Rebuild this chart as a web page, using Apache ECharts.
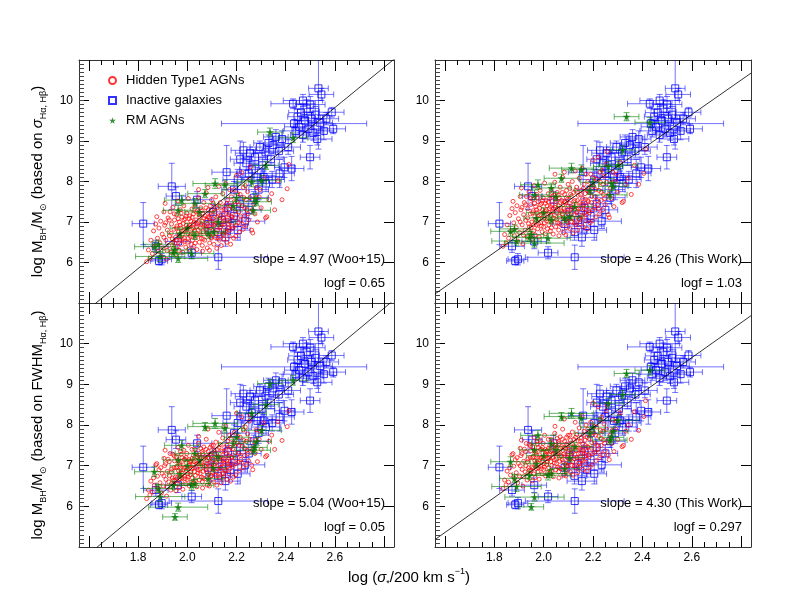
<!DOCTYPE html>
<html>
<head>
<meta charset="utf-8">
<script src="https://cdn.jsdelivr.net/npm/echarts@6.0.0/dist/echarts.min.js"></script>
<style>
  html, body { margin: 0; padding: 0; background: #fff; }
  #chart { width: 789px; height: 608px; }
</style>
</head>
<body>
<div id="chart"></div>
<script>
// log sigma_*, log M (sigma-based, Woo+15 f), log M (FWHM-based, Woo+15 f)
const hiddenAgn = [
  [1.835, 6.02, 6.19], [1.842, 6.31, 6.40], [1.848, 6.10, 6.28], [1.852, 6.55, 6.62], [1.858, 6.22, 6.35],
  [1.863, 6.78, 6.70], [1.866, 6.40, 6.52], [1.872, 6.95, 7.02], [1.876, 7.13, 7.05], [1.879, 6.60, 6.74],
  [1.882, 6.28, 6.44], [1.885, 6.85, 6.90], [1.889, 6.48, 6.58], [1.892, 7.02, 6.95], [1.895, 6.15, 6.33],
  [1.898, 6.70, 6.81], [1.902, 6.36, 6.50], [1.905, 7.25, 7.18], [1.908, 6.92, 7.00], [1.910, 7.46, 7.38],
  [1.913, 6.55, 6.66], [1.916, 6.08, 6.25], [1.919, 6.80, 6.86], [1.922, 7.10, 7.16], [1.925, 6.42, 6.60],
  [1.928, 6.66, 6.75], [1.930, 7.25, 7.30], [1.933, 6.25, 6.40], [1.936, 6.95, 6.92], [1.939, 6.58, 6.70],
  [1.941, 7.36, 7.28], [1.944, 6.35, 6.55], [1.946, 6.82, 6.95], [1.948, 7.05, 7.12], [1.949, 6.48, 6.62],
  [1.952, 6.62, 6.72], [1.954, 6.20, 6.38], [1.956, 7.18, 7.22], [1.958, 6.90, 6.98], [1.960, 6.40, 6.55],
  [1.962, 7.52, 7.45], [1.964, 6.75, 6.88], [1.966, 6.30, 6.46], [1.968, 7.00, 7.08], [1.970, 6.55, 6.68],
  [1.972, 7.30, 7.35], [1.974, 6.85, 6.90], [1.976, 6.45, 6.60], [1.978, 7.12, 7.20], [1.980, 6.70, 6.80],
  [1.982, 6.25, 6.42], [1.984, 6.96, 7.02], [1.986, 7.40, 7.38], [1.988, 6.60, 6.74], [1.990, 6.80, 6.95],
  [1.992, 7.08, 7.15], [1.994, 6.38, 6.55], [1.996, 6.92, 6.88], [1.998, 7.22, 7.30], [2.000, 6.50, 6.66],
  [2.002, 6.72, 6.80], [2.004, 7.58, 7.50], [2.006, 6.88, 7.00], [2.008, 6.33, 6.50], [2.010, 7.15, 7.10],
  [2.012, 6.65, 6.78], [2.014, 7.02, 7.12], [2.016, 6.45, 6.58], [2.018, 6.82, 6.92], [2.019, 7.32, 7.40],
  [2.021, 6.55, 6.70], [2.023, 6.95, 7.02], [2.025, 7.20, 7.25], [2.027, 6.40, 6.58], [2.029, 6.78, 6.85],
  [2.031, 7.42, 7.40], [2.033, 6.62, 6.76], [2.035, 7.05, 7.12], [2.037, 6.88, 6.95], [2.039, 6.32, 6.48],
  [2.041, 7.28, 7.22], [2.043, 6.70, 6.82], [2.045, 7.60, 7.55], [2.047, 6.98, 7.05], [2.049, 6.50, 6.65],
  [2.051, 7.12, 7.20], [2.053, 6.85, 6.92], [2.055, 7.35, 7.42], [2.057, 6.60, 6.72], [2.059, 7.02, 7.08],
  [2.061, 6.42, 6.60], [2.063, 7.22, 7.30], [2.065, 6.76, 6.86], [2.067, 7.48, 7.46], [2.069, 6.92, 7.00],
  [2.071, 6.55, 6.68], [2.073, 7.15, 7.22], [2.075, 6.82, 6.90], [2.077, 7.72, 7.65], [2.079, 7.05, 7.12],
  [2.081, 6.36, 6.52], [2.083, 6.95, 7.05], [2.085, 7.30, 7.35], [2.087, 6.68, 6.78], [2.089, 7.10, 7.18],
  [2.091, 6.48, 6.62], [2.093, 7.40, 7.45], [2.095, 6.86, 6.96], [2.097, 7.18, 7.25], [2.098, 6.60, 6.75],
  [2.099, 7.55, 7.50], [2.090, 6.30, 6.50], [2.062, 6.28, 6.45], [2.046, 7.80, 7.72], [2.084, 7.85, 7.90],
  [2.102, 6.72, 6.85], [2.104, 7.08, 7.15], [2.106, 7.45, 7.50], [2.108, 6.45, 6.60], [2.110, 6.92, 7.00],
  [2.112, 7.25, 7.30], [2.114, 6.62, 6.76], [2.116, 7.62, 7.58], [2.118, 6.98, 7.08], [2.120, 6.35, 6.52],
  [2.122, 7.35, 7.40], [2.124, 6.80, 6.92], [2.126, 7.15, 7.22], [2.128, 7.88, 7.82], [2.130, 6.55, 6.70],
  [2.132, 7.02, 7.12], [2.134, 7.48, 7.52], [2.136, 6.88, 6.95], [2.138, 6.42, 6.58], [2.140, 7.28, 7.35],
  [2.142, 6.70, 6.82], [2.144, 7.70, 7.68], [2.146, 7.10, 7.18], [2.148, 6.58, 6.72], [2.150, 6.95, 7.05],
  [2.152, 7.40, 7.45], [2.154, 6.78, 6.90], [2.156, 7.95, 7.98], [2.158, 7.20, 7.28], [2.160, 6.50, 6.66],
  [2.162, 7.05, 7.12], [2.164, 7.55, 7.60], [2.166, 6.85, 6.98], [2.168, 7.32, 7.38], [2.170, 6.65, 6.80],
  [2.172, 7.80, 7.75], [2.174, 7.00, 7.10], [2.176, 6.45, 6.62], [2.178, 7.15, 7.22], [2.179, 7.62, 7.65],
  [2.182, 6.90, 7.02], [2.185, 7.35, 7.42], [2.188, 6.60, 6.72], [2.191, 7.80, 7.82], [2.194, 7.10, 7.18],
  [2.197, 6.65, 6.78], [2.200, 8.15, 8.29], [2.203, 7.50, 7.55], [2.206, 6.98, 7.08], [2.209, 7.25, 7.30],
  [2.212, 6.75, 6.88], [2.215, 7.68, 7.70], [2.218, 7.05, 7.15], [2.221, 8.22, 8.20], [2.224, 7.40, 7.48],
  [2.227, 6.82, 6.95], [2.230, 7.60, 7.62], [2.233, 7.15, 7.25], [2.236, 7.90, 7.95], [2.239, 6.92, 7.02],
  [2.242, 7.30, 7.38], [2.245, 7.75, 7.78], [2.249, 7.05, 7.12], [2.253, 8.05, 8.10], [2.257, 8.36, 8.25],
  [2.262, 6.80, 7.01], [2.266, 6.73, 6.90], [2.270, 7.45, 7.50], [2.275, 7.20, 7.30], [2.280, 7.85, 7.88],
  [2.285, 7.00, 7.10], [2.292, 7.62, 7.65], [2.300, 7.35, 7.40], [2.310, 8.10, 8.05], [2.318, 7.10, 7.22],
  [2.323, 7.13, 7.25], [2.332, 7.55, 7.60], [2.343, 7.70, 7.75], [2.355, 7.30, 7.40], [2.368, 8.02, 8.08],
  [2.385, 7.55, 7.62], [2.406, 7.82, 7.96], [2.413, 8.42, 8.35],
  [1.905, 6.62, 6.75], [1.912, 6.98, 7.05], [1.918, 6.30, 6.48], [1.927, 7.05, 7.10], [1.935, 6.72, 6.85],
  [1.942, 6.50, 6.64], [1.947, 7.20, 7.24], [1.955, 6.85, 6.95], [1.959, 6.55, 6.70], [1.963, 7.08, 7.12],
  [1.967, 6.68, 6.80], [1.971, 6.92, 7.02], [1.975, 7.22, 7.28], [1.979, 6.58, 6.70], [1.983, 6.78, 6.90],
  [1.987, 7.05, 7.15], [1.991, 6.52, 6.68], [1.995, 7.15, 7.20], [1.999, 6.85, 6.95], [2.003, 6.60, 6.72],
  [2.007, 7.08, 7.15], [2.011, 6.92, 7.02], [2.015, 6.70, 6.85], [2.020, 7.12, 7.18], [2.024, 6.85, 6.95],
  [2.028, 7.00, 7.10], [2.032, 6.48, 6.62], [2.036, 7.25, 7.30], [2.040, 6.95, 7.05], [2.044, 6.80, 6.90],
  [2.048, 7.18, 7.25], [2.052, 6.68, 6.80], [2.056, 6.95, 7.05], [2.060, 7.28, 7.35], [2.064, 6.58, 6.70],
  [2.068, 7.10, 7.18], [2.072, 6.88, 6.98], [2.076, 7.35, 7.40], [2.080, 6.72, 6.85], [2.084, 7.12, 7.20],
  [2.088, 6.90, 7.00], [2.092, 7.22, 7.28], [2.096, 6.62, 6.75], [2.100, 7.02, 7.10], [2.105, 6.80, 6.92],
  [2.109, 7.30, 7.38], [2.113, 6.95, 7.05], [2.117, 6.72, 6.85], [2.121, 7.12, 7.20], [2.125, 6.60, 6.75],
  [2.129, 7.40, 7.45], [2.133, 6.85, 6.95], [2.137, 7.15, 7.22], [2.141, 6.95, 7.05], [2.145, 6.68, 6.80],
  [2.149, 7.30, 7.35], [2.153, 7.05, 7.15], [2.157, 6.75, 6.88], [2.161, 7.45, 7.50], [2.165, 6.95, 7.05],
  [2.169, 7.18, 7.25], [2.173, 6.80, 6.92], [2.177, 7.40, 7.45], [2.181, 7.12, 7.20], [2.186, 6.85, 6.98],
  [2.190, 7.50, 7.55], [2.195, 7.25, 7.32], [2.199, 6.92, 7.05], [2.204, 7.70, 7.72], [2.210, 7.42, 7.50],
  [2.216, 7.15, 7.25], [2.222, 6.95, 7.08], [2.228, 7.85, 7.88], [2.234, 7.35, 7.42], [2.240, 7.55, 7.60],
  [2.247, 7.20, 7.30], [2.255, 7.60, 7.65], [2.264, 7.30, 7.38], [2.278, 7.60, 7.62], [2.295, 7.80, 7.85]
];

// log sigma_*, log M_dyn, x error, y error
const inactiveGalaxies = [
  [1.821, 6.96, 0.045, 0.52], [1.872, 6.40, 0.05, 0.15], [1.885, 6.04, 0.035, 0.10], [1.896, 6.08, 0.04, 0.14],
  [1.937, 7.88, 0.055, 0.57], [1.954, 7.64, 0.04, 0.22], [1.962, 6.52, 0.05, 0.18], [2.018, 6.24, 0.04, 0.15],
  [2.126, 6.13, 0.20, 0.30], [2.040, 7.55, 0.06, 0.20], [2.085, 6.95, 0.05, 0.15], [2.105, 7.25, 0.06, 0.18],
  [2.125, 6.75, 0.05, 0.20], [2.140, 7.05, 0.04, 0.16], [2.155, 6.62, 0.06, 0.22], [2.165, 7.35, 0.05, 0.15],
  [2.175, 6.90, 0.07, 0.18], [2.190, 7.15, 0.05, 0.14], [2.205, 6.80, 0.05, 0.25], [2.215, 7.45, 0.06, 0.20],
  [2.235, 7.02, 0.08, 0.18], [2.250, 7.30, 0.05, 0.22], [2.270, 7.60, 0.06, 0.15], [2.160, 8.23, 0.06, 0.66],
  [2.190, 7.80, 0.05, 0.20], [2.205, 8.05, 0.06, 0.25], [2.228, 8.77, 0.05, 0.20], [2.215, 8.55, 0.04, 0.45],
  [2.240, 8.45, 0.05, 0.18], [2.255, 8.70, 0.06, 0.15], [2.262, 8.30, 0.05, 0.20], [2.275, 8.60, 0.05, 0.18],
  [2.285, 8.10, 0.06, 0.25], [2.295, 8.85, 0.04, 0.15], [2.305, 8.40, 0.05, 0.20], [2.310, 8.11, 0.08, 0.15],
  [2.318, 8.72, 0.05, 0.18], [2.330, 8.95, 0.06, 0.20], [2.340, 8.55, 0.05, 0.15], [2.350, 8.90, 0.04, 0.22],
  [2.360, 9.10, 0.05, 0.18], [2.372, 8.75, 0.06, 0.15], [2.385, 9.05, 0.05, 0.20], [2.395, 8.35, 0.04, 0.25],
  [2.410, 8.85, 0.05, 0.18], [2.424, 8.32, 0.05, 0.30], [2.430, 9.92, 0.09, 0.12], [2.434, 9.43, 0.295, 0.10],
  [2.440, 9.25, 0.05, 0.15], [2.448, 9.60, 0.04, 0.18], [2.455, 9.35, 0.06, 0.15], [2.462, 9.70, 0.05, 0.20],
  [2.470, 9.15, 0.05, 0.18], [2.478, 9.50, 0.04, 0.15], [2.485, 9.80, 0.05, 0.22], [2.492, 9.30, 0.06, 0.20],
  [2.499, 8.60, 0.04, 0.29], [2.505, 9.55, 0.05, 0.15], [2.512, 9.20, 0.04, 0.18], [2.520, 9.65, 0.05, 0.20],
  [2.528, 9.05, 0.06, 0.15], [2.533, 10.30, 0.04, 1.50], [2.545, 10.15, 0.05, 0.15], [2.540, 9.45, 0.05, 0.18],
  [2.555, 9.25, 0.04, 0.22], [2.587, 9.71, 0.05, 0.12], [2.593, 9.30, 0.05, 0.12], [2.565, 9.55, 0.05, 0.15],
  [2.500, 9.90, 0.06, 0.20], [2.470, 10.00, 0.08, 0.15], [2.375, 8.20, 0.06, 0.35], [2.345, 8.05, 0.05, 0.20],
  [2.290, 7.80, 0.04, 0.25], [2.320, 7.95, 0.06, 0.20], [2.250, 8.20, 0.05, 0.30]
];

// log sigma_*, log M (sigma-based), log M (FWHM-based), x error, y error
const rmAgn = [
  [1.866, 6.39, 6.85, 0.08, 0.12], [1.882, 6.45, 6.44, 0.06, 0.10], [1.890, 6.15, 6.24, 0.10, 0.12],
  [1.943, 6.24, 6.52, 0.07, 0.10], [1.950, 6.31, 5.74, 0.05, 0.08], [1.963, 6.10, 5.98, 0.12, 0.10],
  [1.963, 7.29, 7.14, 0.06, 0.12], [1.970, 6.72, 6.80, 0.05, 0.10], [1.977, 7.54, 7.50, 0.07, 0.12],
  [2.018, 6.22, 6.52, 0.09, 0.12], [2.031, 6.67, 6.56, 0.06, 0.10], [2.031, 7.46, 7.30, 0.08, 0.12],
  [2.072, 7.70, 7.96, 0.07, 0.10], [2.085, 6.72, 6.68, 0.06, 0.12], [2.106, 6.76, 6.95, 0.05, 0.10],
  [2.113, 7.95, 8.04, 0.09, 0.12], [2.126, 7.00, 7.22, 0.07, 0.10], [2.153, 7.91, 7.92, 0.08, 0.12],
  [2.187, 7.40, 7.55, 0.06, 0.10], [2.262, 7.99, 8.29, 0.06, 0.12], [2.268, 7.29, 7.38, 0.07, 0.10],
  [2.275, 7.58, 7.45, 0.05, 0.12], [2.282, 7.50, 7.60, 0.06, 0.10], [2.302, 8.03, 7.87, 0.08, 0.12],
  [2.336, 9.22, 9.02, 0.05, 0.10], [2.430, 9.08, 9.10, 0.06, 0.12], [2.320, 8.40, 8.50, 0.05, 0.10],
  [2.050, 7.25, 7.14, 0.06, 0.10], [2.000, 6.85, 7.00, 0.07, 0.12], [2.200, 7.60, 7.70, 0.05, 0.10]
];

// panel order: top-left, top-right, bottom-left, bottom-right
const massColumn = [1, 1, 2, 2];
const logfValues = [0.65, 1.03, 0.05, 0.297];
const logfRef = [0.65, 0.65, 0.05, 0.05];   // masses above are tabulated with the Woo+15 f
const fitSlopes = [4.97, 4.26, 5.04, 4.30];
const fitIntercepts = [8.34, 8.38, 8.36, 8.37]; // at log sigma = log 200
const fitPivot = 2.301;
const slopeLabels = ['slope = 4.97 (Woo+15)', 'slope = 4.26 (This Work)', 'slope = 5.04 (Woo+15)', 'slope = 4.30 (This Work)'];
const logfLabels = ['logf = 0.65', 'logf = 1.03', 'logf = 0.05', 'logf = 0.297'];

const xRange = [1.56, 2.84];
const yRange = [5, 11];
const xMajorTicks = [1.6, 1.8, 2.0, 2.2, 2.4, 2.6, 2.8];
const xLabelValues = [1.8, 2.0, 2.2, 2.4, 2.6];
const yMajorTicks = [6, 7, 8, 9, 10];
const yLabelValues = [6, 7, 8, 9, 10];

const xMinorTicks = [];
for (let i = 0; i <= 24; i++) xMinorTicks.push(+(1.6 + i * 0.05).toFixed(2));
const yMinorTicks = [];
for (let i = 1; i < 60; i++) yMinorTicks.push(+(5 + i * 0.1).toFixed(1));

const FONT = '"Liberation Sans", Arial, Helvetica, sans-serif';
const gridBoxes = [
  {left: 79, top: 60, width: 315, height: 243},
  {left: 435, top: 60, width: 316, height: 243},
  {left: 79, top: 303, width: 315, height: 244},
  {left: 435, top: 303, width: 316, height: 244}
];

const richName = {
  n: {fontSize: 15, fontFamily: FONT, fontWeight: 'normal', lineHeight: 21, color: '#000'},
  i: {fontSize: 15, fontFamily: FONT, fontWeight: 'normal', fontStyle: 'italic', lineHeight: 21, color: '#000'},
  s: {fontSize: 9, fontFamily: FONT, fontWeight: 'normal', verticalAlign: 'bottom', lineHeight: 9, color: '#000'},
  p: {fontSize: 9, fontFamily: FONT, fontWeight: 'normal', verticalAlign: 'top', lineHeight: 9, color: '#000'}
};
const yNames = [
  '{n|log M}{s|BH}{n|/M}{s|⊙}{n| (based on }{i|σ}{s|Hα, Hβ}{n|)}',
  null,
  '{n|log M}{s|BH}{n|/M}{s|⊙}{n| (based on FWHM}{s|Hα, Hβ}{n|)}',
  null
];

const STAR = 'path://M50,0 L61,35 98,35 68,57 79,91 50,70 21,91 32,57 2,35 39,35Z';
const lineCol = '#333';

function buildXAxes(g, showLabels) {
  const base = {type: 'value', gridIndex: g, min: xRange[0], max: xRange[1], splitLine: {show: false}};
  const major = {inside: true, length: 11, customValues: xMajorTicks, lineStyle: {color: '#000', width: 1}};
  const minor = {inside: true, length: 5, customValues: xMinorTicks, lineStyle: {color: '#000', width: 1}};
  return [
    Object.assign({}, base, {
      position: 'bottom',
      axisLine: {show: true, onZero: false, lineStyle: {color: lineCol, width: 1}},
      axisTick: major,
      axisLabel: {
        show: showLabels, customValues: xLabelValues, margin: 5,
        fontSize: 12, fontFamily: FONT, color: '#000',
        formatter: v => v.toFixed(1)
      }
    }),
    Object.assign({}, base, {position: 'bottom', axisLine: {show: false, onZero: false}, axisTick: minor, axisLabel: {show: false}}),
    Object.assign({}, base, {position: 'top', axisLine: {show: true, onZero: false, lineStyle: {color: lineCol, width: 1}}, axisTick: major, axisLabel: {show: false}}),
    Object.assign({}, base, {position: 'top', axisLine: {show: false, onZero: false}, axisTick: minor, axisLabel: {show: false}})
  ];
}

function buildYAxes(g, name) {
  const base = {type: 'value', gridIndex: g, min: yRange[0], max: yRange[1], splitLine: {show: false}};
  const left = Object.assign({}, base, {
    position: 'left',
    axisLine: {show: true, onZero: false, lineStyle: {color: lineCol, width: 1}},
    axisTick: {inside: true, length: 10, customValues: yMajorTicks, lineStyle: {color: '#000'}},
    axisLabel: {customValues: yLabelValues, margin: 6, fontSize: 12, fontFamily: FONT, color: '#000'}
  });
  if (name) {
    Object.assign(left, {
      name: name, nameLocation: 'middle', nameRotate: 90, nameGap: 31,
      nameTextStyle: {rich: richName}
    });
  }
  return [
    left,
    Object.assign({}, base, {position: 'left', axisLine: {show: false, onZero: false},
      axisTick: {inside: true, length: 5, customValues: yMinorTicks, lineStyle: {color: '#444'}}, axisLabel: {show: false}}),
    Object.assign({}, base, {position: 'right', axisLine: {show: true, onZero: false, lineStyle: {color: lineCol, width: 1}},
      axisTick: {inside: true, length: 10, customValues: yMajorTicks, lineStyle: {color: '#000'}}, axisLabel: {show: false}})
  ];
}

function errorBars(color) {
  return function (params, api) {
    const x = api.value(0), y = api.value(1), xe = api.value(2), ye = api.value(3);
    const l = api.coord([x - xe, y]), r = api.coord([x + xe, y]);
    const b = api.coord([x, y - ye]), t = api.coord([x, y + ye]);
    const cap = 3;
    const style = {stroke: color, lineWidth: 1, fill: null};
    const seg = (x1, y1, x2, y2) => ({type: 'line', shape: {x1, y1, x2, y2}, style});
    return {
      type: 'group',
      children: [
        seg(l[0], l[1], r[0], r[1]),
        seg(l[0], l[1] - cap, l[0], l[1] + cap),
        seg(r[0], r[1] - cap, r[0], r[1] + cap),
        seg(b[0], b[1], t[0], t[1]),
        seg(b[0] - cap, b[1], b[0] + cap, b[1]),
        seg(t[0] - cap, t[1], t[0] + cap, t[1])
      ]
    };
  };
}

const grids = [], xAxes = [], yAxes = [], series = [], titles = [];

for (let p = 0; p < 4; p++) {
  grids.push(Object.assign({containLabel: false}, gridBoxes[p]));
  xAxes.push(...buildXAxes(p, p >= 2));
  yAxes.push(...buildYAxes(p, yNames[p]));
  const xi = 4 * p, yi = 3 * p;
  const col = massColumn[p];
  const shift = logfValues[p] - logfRef[p];

  series.push({
    type: 'custom', name: 'Inactive errors', xAxisIndex: xi, yAxisIndex: yi, clip: true, silent: true,
    renderItem: errorBars('rgba(0,0,255,0.55)'),
    encode: {x: 0, y: 1},
    data: inactiveGalaxies.map(r => [r[0], r[1], r[2], r[3]]), z: 2
  });
  series.push({
    type: 'scatter', name: 'Inactive galaxies', xAxisIndex: xi, yAxisIndex: yi, silent: true,
    symbol: 'rect', symbolSize: 7,
    itemStyle: {color: 'rgba(0,0,0,0)', borderColor: '#0000ff', borderWidth: 1},
    data: inactiveGalaxies.map(r => [r[0], r[1]]), z: 3
  });
  series.push({
    type: 'scatter', name: 'Hidden Type1 AGNs', xAxisIndex: xi, yAxisIndex: yi, silent: true,
    symbol: 'circle', symbolSize: 4,
    itemStyle: {color: 'rgba(0,0,0,0)', borderColor: '#ff0000', borderWidth: 0.9},
    data: hiddenAgn.map(r => [r[0], +(r[col] + shift).toFixed(3)]), z: 4
  });
  series.push({
    type: 'custom', name: 'RM errors', xAxisIndex: xi, yAxisIndex: yi, clip: true, silent: true,
    renderItem: errorBars('rgba(0,128,0,0.6)'),
    encode: {x: 0, y: 1},
    data: rmAgn.map(r => [r[0], +(r[col] + shift).toFixed(3), r[3], r[4]]), z: 5
  });
  series.push({
    type: 'scatter', name: 'RM AGNs', xAxisIndex: xi, yAxisIndex: yi, silent: true,
    symbol: STAR, symbolSize: 8,
    itemStyle: {color: '#087508'},
    data: rmAgn.map(r => [r[0], +(r[col] + shift).toFixed(3)]), z: 6
  });
  series.push({
    type: 'line', name: 'fit', xAxisIndex: xi, yAxisIndex: yi, silent: true,
    showSymbol: false, symbol: 'none', clip: true,
    lineStyle: {color: '#000', width: 0.8},
    data: xRange.map(x => [x, fitIntercepts[p] + fitSlopes[p] * (x - fitPivot)]), z: 7
  });

  const rightEdge = gridBoxes[p].left + gridBoxes[p].width - 9;
  const base = gridBoxes[p].top + gridBoxes[p].height;
  titles.push({
    text: slopeLabels[p], right: 789 - rightEdge, top: base - 50, padding: 0,
    textStyle: {fontSize: 13, fontWeight: 'normal', fontFamily: FONT, color: '#000'}
  });
  titles.push({
    text: logfLabels[p], right: 789 - rightEdge, top: base - 26, padding: 0,
    textStyle: {fontSize: 13, fontWeight: 'normal', fontFamily: FONT, color: '#000'}
  });
}

titles.push({
  text: '{n|log (}{i|σ}{s|*}{n|/200 km s}{p|−1}{n|)}',
  left: 348, top: 567, padding: 0,
  textStyle: {fontWeight: 'normal', rich: richName}
});

const chart = echarts.init(document.getElementById('chart'), null, {renderer: 'canvas'});
chart.setOption({
  animation: false,
  backgroundColor: '#fff',
  title: titles,
  legend: {
    show: true, orient: 'vertical', left: 108, top: 74, itemGap: 7,
    itemWidth: 7, itemHeight: 7, padding: 0,
    data: ['Hidden Type1 AGNs', 'Inactive galaxies', 'RM AGNs'],
    textStyle: {fontSize: 13, fontFamily: FONT, color: '#000', padding: [0, 0, 0, 5]}
  },
  grid: grids,
  xAxis: xAxes,
  yAxis: yAxes,
  series: series
});
</script>
</body>
</html>
